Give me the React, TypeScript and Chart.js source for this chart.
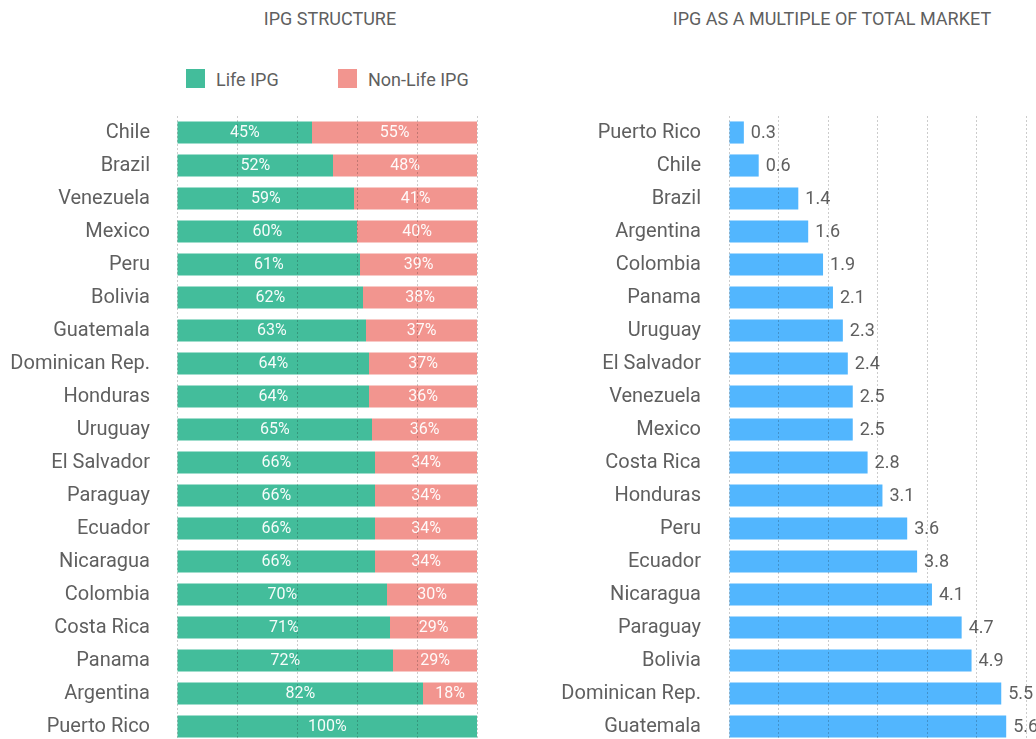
import React, { useEffect, useRef } from "react";
import { Chart, registerables } from "chart.js";

Chart.register(...registerables);

const structureCountries = [
  "Chile", "Brazil", "Venezuela", "Mexico", "Peru", "Bolivia", "Guatemala",
  "Dominican Rep.", "Honduras", "Uruguay", "El Salvador", "Paraguay", "Ecuador",
  "Nicaragua", "Colombia", "Costa Rica", "Panama", "Argentina", "Puerto Rico",
];
const lifeShare = [45, 52, 59, 60, 61, 62, 63, 64, 64, 65, 66, 66, 66, 66, 70, 71, 72, 82, 100];
const nonLifeShare = [55, 48, 41, 40, 39, 38, 37, 37, 36, 36, 34, 34, 34, 34, 30, 29, 29, 18, 0];

const multipleCountries = [
  "Puerto Rico", "Chile", "Brazil", "Argentina", "Colombia", "Panama", "Uruguay",
  "El Salvador", "Venezuela", "Mexico", "Costa Rica", "Honduras", "Peru", "Ecuador",
  "Nicaragua", "Paraguay", "Bolivia", "Dominican Rep.", "Guatemala",
];
const multipleValues = [0.3, 0.6, 1.4, 1.6, 1.9, 2.1, 2.3, 2.4, 2.5, 2.5, 2.8, 3.1, 3.6, 3.8, 4.1, 4.7, 4.9, 5.5, 5.6];

const FONT = "Roboto, 'Noto Sans', sans-serif";
const TEXT = "#5f5f5f";
const GREEN = "#43bd9b";
const PINK = "#f2958f";
const BLUE = "#52b6fe";
const GRID = "rgba(0,0,0,0.2)";

const segmentLabels = {
  id: "segmentLabels",
  afterDatasetsDraw(chart: any) {
    const ctx = chart.ctx;
    ctx.save();
    ctx.font = `16px ${FONT}`;
    ctx.fillStyle = "rgba(255,255,255,0.95)";
    ctx.textAlign = "center";
    ctx.textBaseline = "middle";
    chart.data.datasets.forEach((ds: any, di: number) => {
      const meta = chart.getDatasetMeta(di);
      meta.data.forEach((bar: any, i: number) => {
        const v = ds.data[i];
        if (!v) return;
        const left = Math.min(bar.base, bar.x);
        const right = Math.min(Math.max(bar.base, bar.x), chart.chartArea.right);
        ctx.fillText(`${v}%`, (left + right) / 2, bar.y);
      });
    });
    ctx.restore();
  },
};

const endLabels = {
  id: "endLabels",
  afterDatasetsDraw(chart: any) {
    const ctx = chart.ctx;
    ctx.save();
    ctx.font = `18px ${FONT}`;
    ctx.fillStyle = TEXT;
    ctx.textAlign = "left";
    ctx.textBaseline = "middle";
    const ds = chart.data.datasets[0];
    chart.getDatasetMeta(0).data.forEach((bar: any, i: number) => {
      ctx.fillText(ds.data[i].toFixed(1), bar.x + 7, bar.y + 1);
    });
    ctx.restore();
  },
};

function yAxis(width: number, pad: number) {
  return {
    ticks: { color: TEXT, font: { family: FONT, size: 20 }, padding: pad, autoSkip: false },
    grid: { display: false, drawTicks: false },
    border: { display: false },
    afterFit: (s: any) => {
      s.width = width;
      s.paddingTop = 0;
      s.paddingBottom = 0;
    },
  };
}

function StructureChart() {
  const ref = useRef<HTMLCanvasElement>(null);
  useEffect(() => {
    const chart = new Chart(ref.current!, {
      type: "bar",
      data: {
        labels: structureCountries,
        datasets: [
          { label: "Life IPG", data: lifeShare, backgroundColor: GREEN, barPercentage: 0.67, categoryPercentage: 1 },
          { label: "Non-Life IPG", data: nonLifeShare, backgroundColor: PINK, barPercentage: 0.67, categoryPercentage: 1 },
        ],
      },
      options: {
        indexAxis: "y",
        responsive: false,
        animation: false,
        events: [],
        layout: { padding: { top: 116, right: 13, left: 0, bottom: 0 } },
        scales: {
          x: {
            stacked: true,
            min: 0,
            max: 100,
            ticks: { display: false, stepSize: 20 },
            grid: { color: GRID, drawTicks: false, z: 1 },
            border: { display: false, dash: [2, 2] },
          },
          y: { stacked: true, ...yAxis(177, 27) },
        },
        plugins: {
          legend: { display: false },
          tooltip: { enabled: false },
        },
      },
      plugins: [segmentLabels],
    });
    return () => chart.destroy();
  }, []);
  return (
    <canvas
      ref={ref}
      width={490}
      height={743}
      style={{ position: "absolute", left: 0, top: 0, width: 490, height: 743 }}
    />
  );
}

function MultipleChart() {
  const ref = useRef<HTMLCanvasElement>(null);
  useEffect(() => {
    const chart = new Chart(ref.current!, {
      type: "bar",
      data: {
        labels: multipleCountries,
        datasets: [
          { label: "IPG multiple", data: multipleValues, backgroundColor: BLUE, barPercentage: 0.67, categoryPercentage: 1 },
        ],
      },
      options: {
        indexAxis: "y",
        responsive: false,
        animation: false,
        events: [],
        layout: { padding: { top: 116, right: 10, left: 0, bottom: 0 } },
        scales: {
          x: {
            min: 0,
            max: 6,
            ticks: { display: false, stepSize: 1 },
            grid: { color: GRID, drawTicks: false, z: 1 },
            border: { display: false, dash: [2, 2] },
          },
          y: yAxis(209, 28),
        },
        plugins: {
          legend: { display: false },
          tooltip: { enabled: false },
        },
      },
      plugins: [endLabels],
    });
    return () => chart.destroy();
  }, []);
  return (
    <canvas
      ref={ref}
      width={516}
      height={743}
      style={{ position: "absolute", left: 520, top: 0, width: 516, height: 743 }}
    />
  );
}

const titleStyle: React.CSSProperties = {
  position: "absolute",
  top: 8,
  fontFamily: FONT,
  fontSize: 18,
  lineHeight: "22px",
  color: TEXT,
  textAlign: "center",
  whiteSpace: "nowrap",
};

const legendItems = [
  { label: "Life IPG", color: GREEN, left: 186 },
  { label: "Non-Life IPG", color: PINK, left: 338 },
];

export default function App() {
  useEffect(() => {
    document.body.style.margin = "0";
    document.body.style.overflow = "hidden";
  }, []);
  return (
    <div style={{ position: "relative", width: 1036, height: 739, overflow: "hidden", background: "#fff" }}>
      <div style={{ ...titleStyle, left: 130, width: 400 }}>IPG STRUCTURE</div>
      <div style={{ ...titleStyle, left: 632, width: 400 }}>IPG AS A MULTIPLE OF TOTAL MARKET</div>
      {legendItems.map((it) => (
        <div
          key={it.label}
          style={{
            position: "absolute",
            left: it.left,
            top: 69,
            height: 19,
            display: "flex",
            alignItems: "center",
            fontFamily: FONT,
            fontSize: 18,
            color: TEXT,
            whiteSpace: "nowrap",
          }}
        >
          <span style={{ display: "inline-block", width: 19, height: 19, background: it.color, marginRight: 11 }} />
          <span style={{ lineHeight: "19px", paddingTop: 2 }}>{it.label}</span>
        </div>
      ))}
      <StructureChart />
      <MultipleChart />
    </div>
  );
}
